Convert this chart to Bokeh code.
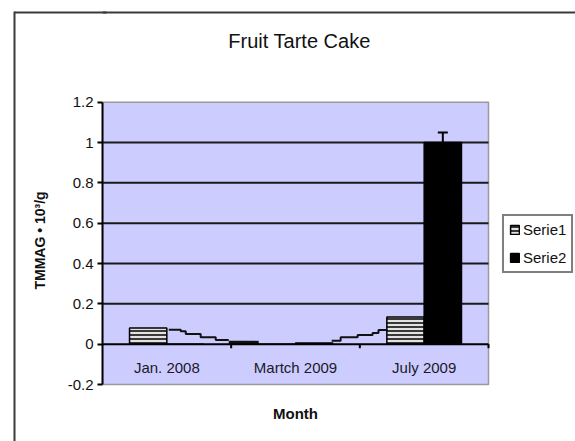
from bokeh.plotting import figure
from bokeh.models import (Range1d, FixedTicker, Legend, LegendItem, Whisker,
                          ColumnDataSource, TeeHead, LinearAxis)
from bokeh.core.properties import value
from bokeh.embed import file_html
from bokeh.resources import INLINE

# ---------------- data ----------------
categories = ["Jan. 2008", "Martch 2009", "July 2009"]
serie1 = [0.08, 0.0, 0.135]
serie2 = [0.0, 0.006, 1.0]
serie2_err = [0.0, 0.0, 0.05]
y_ticks = [-0.2, 0.0, 0.2, 0.4, 0.6, 0.8, 1.0, 1.2]
y_tick_labels = ["-0.2", "0", "0.2", "0.4", "0.6", "0.8", "1", "1.2"]
grid_ticks = [0.2, 0.4, 0.6, 0.8, 1.0]

# stair-shaped connecting line (category units, value)
trend_x0 = [0.515, 0.608, 0.647, 0.763, 0.880, 1.781, 1.851, 1.983, 2.099, 2.145]
trend_x1 = [0.608, 0.647, 0.763, 0.880, 0.981, 1.851, 1.983, 2.099, 2.145, 2.215]
trend_y = [0.071, 0.064, 0.051, 0.034, 0.021, 0.017, 0.034, 0.046, 0.055, 0.070]
thick_x0 = [0.981]
thick_x1 = [1.214]
thick_y = [0.008]

# ---------------- layout constants (pixels) ----------------
FONT = "Liberation Sans"
FRAME = "#3a3a3a"
W, H = 575, 441
PL, PR, PT, PB = 102.0, 488.0, 101.7, 384.0   # lavender plot area
EDGE_X, EDGE_Y = 16, 12                       # outer chart frame (left / top line)
n = len(categories)
y_lo, y_hi = -0.2, 1.2
kx = (PR - PL) / n
ky = (PB - PT) / (y_hi - y_lo)


def dx(px):
    return (px - PL) / kx


def dy(py):
    return y_lo + (PB - py) / ky


centers = [i + 0.5 for i in range(n)]
bar_w = 0.29
x1 = [c - bar_w / 2 for c in centers]
x2 = [c + bar_w / 2 for c in centers]

p = figure(width=W, height=H, output_backend="svg", toolbar_location=None,
           x_range=Range1d(0, dx(W)), y_range=Range1d(dy(H), dy(0)),
           min_border_left=int(PL), min_border_right=0, min_border_top=0,
           min_border_bottom=0)
p.title.visible = False
p.xaxis.visible = False
p.background_fill_color = "white"
p.border_fill_color = "white"
p.outline_line_color = None
p.grid.visible = False
p.extra_y_ranges = {"outer": Range1d(0, 1)}

# plot area (lavender) with grey outline
p.quad(left=[0], right=[n], bottom=[y_lo], top=[y_hi], fill_color="#ccccff",
       line_color="#9a9a9a", line_width=1.5)

# horizontal grid lines
p.segment(x0=[0] * len(grid_ticks), x1=[n] * len(grid_ticks), y0=grid_ticks,
          y1=grid_ticks, line_color="#1a1a1a", line_width=2)

# y axis (label padded with no-break spaces so it centres on the plot area)
ya = p.yaxis[0]
ya.ticker = FixedTicker(ticks=y_ticks, minor_ticks=[])
ya.bounds = (y_lo, y_hi)
ya.major_label_overrides = {t: l for t, l in zip(y_ticks, y_tick_labels)}
ya.axis_line_color = "black"
ya.axis_line_width = 2
ya.major_tick_line_color = "black"
ya.major_tick_line_width = 2
ya.major_tick_out = 5
ya.major_tick_in = 0
ya.minor_tick_line_color = None
ya.major_label_standoff = 4
ya.major_label_text_font = FONT
ya.major_label_text_font_size = "15px"
ya.major_label_text_color = "#111111"
ya.axis_label = "TMMAG \u2022 10\u00b3/g" + "\u00a0" * 10
ya.axis_label_text_font = FONT
ya.axis_label_text_font_size = "14px"
ya.axis_label_text_font_style = "bold"
ya.axis_label_text_color = "#111111"
ya.axis_label_standoff = 17

# spacer, then the outer chart frame (left line + top line across the margin)
spacer = LinearAxis(ticker=FixedTicker(ticks=[dy(H - 0.5)], minor_ticks=[]),
                    axis_line_color=None, major_tick_line_color="white",
                    major_tick_line_width=1, minor_tick_line_color=None,
                    major_tick_out=14, major_tick_in=0,
                    major_label_overrides={dy(H - 0.5): ""}, major_label_text_color=None)
p.add_layout(spacer, "left")
top_tick = 1 - EDGE_Y / H
edge = LinearAxis(y_range_name="outer", ticker=FixedTicker(ticks=[top_tick], minor_ticks=[]),
                  bounds=(0, 1 - (EDGE_Y - 1) / H), axis_line_color=FRAME,
                  axis_line_width=2, major_tick_line_color=FRAME, major_tick_line_width=2,
                  major_tick_in=int(PL) - EDGE_X + 6, major_tick_out=0,
                  minor_tick_line_color=None, major_label_overrides={top_tick: ""},
                  major_label_text_color=None)
p.add_layout(edge, "left")
p.segment(x0=[dx(PL)], x1=[dx(W)], y0=[dy(EDGE_Y)], y1=[dy(EDGE_Y)],
          line_color=FRAME, line_width=2)

# bars
r1 = p.vbar(x=x1, top=serie1, bottom=0, width=bar_w, fill_color="#e2e2e2",
            line_color="black", line_width=1.5, hatch_pattern="horizontal_line",
            hatch_color="black", hatch_scale=4, hatch_weight=1.5)
r2 = p.vbar(x=x2, top=serie2, bottom=0, width=bar_w, fill_color="black",
            line_color="black", line_width=1.5)

# stair line
xs, ys = [], []
for a, b, v in zip(trend_x0, trend_x1, trend_y):
    xs += [a, b]
    ys += [v, v]
cut = 2 * trend_x0.index(1.781)
p.line(xs[:cut], ys[:cut], line_color="#111111", line_width=2)
p.line(xs[cut:], ys[cut:], line_color="#111111", line_width=2)
p.segment(x0=thick_x0, x1=thick_x1, y0=thick_y, y1=thick_y,
          line_color="#111111", line_width=3.5)

# category axis line at zero, with boundary ticks
p.segment(x0=[0], x1=[n], y0=[0], y1=[0], line_color="black", line_width=2)
bounds = [i + 1 for i in range(n)]
p.segment(x0=bounds, x1=bounds, y0=[0] * n, y1=[-0.02] * n,
          line_color="black", line_width=2)

# category labels
p.text(x=centers, y=[-0.114] * n, text=categories, text_align="center",
       text_baseline="middle", text_font=value(FONT), text_font_size="15px",
       text_color="#1a1a2a")

# title and x-axis title
p.text(x=[dx(299)], y=[dy(40)], text=["Fruit Tarte Cake"], text_align="center",
       text_baseline="middle", text_font=value(FONT), text_font_size="20px",
       text_color="#111111")
p.text(x=[n / 2], y=[dy(413)], text=["Month"], text_align="center",
       text_baseline="middle", text_font=value(FONT), text_font_size="15px",
       text_font_style="bold", text_color="#111111")

# error bars
ex = [b for b, e in zip(x2, serie2_err) if e > 0]
elo = [v for v, e in zip(serie2, serie2_err) if e > 0]
ehi = [v + e for v, e in zip(serie2, serie2_err) if e > 0]
esrc = ColumnDataSource(dict(base=ex, lower=elo, upper=ehi))
p.add_layout(Whisker(base="base", lower="lower", upper="upper", source=esrc,
                     level="overlay", line_color="black", line_width=2, lower_head=None,
                     upper_head=TeeHead(size=10, line_width=2, line_color="black")))

# legend
legend = Legend(items=[LegendItem(label="Serie1", renderers=[r1]),
                       LegendItem(label="Serie2", renderers=[r2])],
                location=(400, 168))
legend.border_line_color = "black"
legend.border_line_width = 2
legend.background_fill_color = "white"
legend.background_fill_alpha = 1
legend.label_text_font = FONT
legend.label_text_font_size = "15px"
legend.label_text_color = "#111111"
legend.glyph_width = 11
legend.glyph_height = 11
legend.label_standoff = 3
legend.padding = 5
legend.spacing = 11
legend.margin = 0
p.add_layout(legend)

open("out.html", "w").write(file_html(p, INLINE))
